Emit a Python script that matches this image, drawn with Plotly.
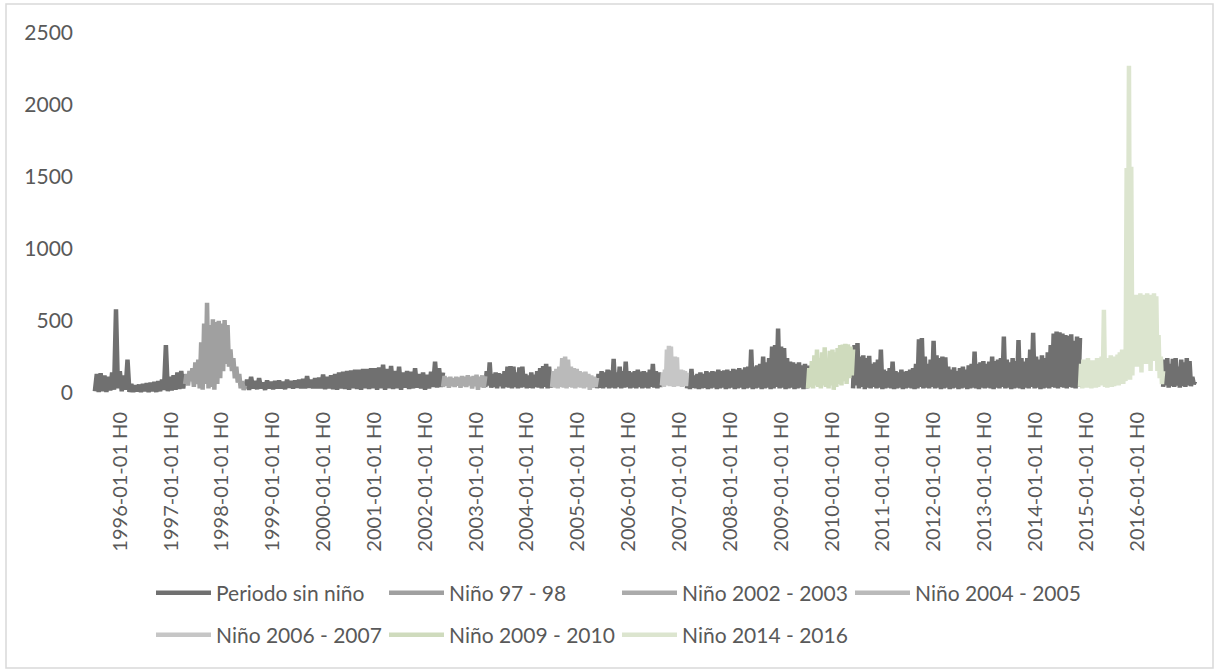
import pandas as pd
import plotly.graph_objects as go

# Caudal horario resumido: pares (valle, pico) a lo largo de cada periodo
years = list(range(1996, 2017))
tick_dates = [f"{y}-01-01" for y in years]
tick_labels = [f"{y}-01-01 H0" for y in years]

# Periodo sin niño, tramos consecutivos (inicio, fin)
sin_nino_spans = [
    ("1995-07-04", "1997-04-12"),
    ("1998-06-17", "2002-05-09"),
    ("2003-03-08", "2004-06-30"),
    ("2005-05-19", "2006-08-28"),
    ("2007-02-24", "2009-07-12"),
    ("2010-06-01", "2014-11-17"),
    ("2016-07-06", "2017-02-21"),
]
sin_nino_1995_1997 = [10, 130, 5, 135, 10, 120, 5, 110, 15, 140, 20, 580, 30, 150, 10, 120,
                      20, 230, 5, 60, 5, 50, 10, 55, 5, 60, 10, 65, 5, 70, 10, 75, 5, 80,
                      10, 90, 20, 330, 10, 110, 15, 120, 20, 140, 25, 150, 30, 130]
sin_nino_1998_2002 = [30, 90, 20, 110, 30, 80, 25, 100, 30, 70, 20, 85, 30, 75, 25, 80,
                      30, 85, 30, 75, 25, 90, 35, 80, 30, 85, 35, 90, 30, 95, 30, 115,
                      35, 90, 30, 100, 30, 105, 30, 125, 25, 110, 30, 120, 25, 130, 20, 140,
                      30, 145, 25, 150, 20, 155, 30, 160, 25, 160, 20, 165, 30, 165, 25, 170,
                      30, 170, 20, 175, 30, 195, 20, 165, 30, 185, 25, 150, 30, 180, 20, 140,
                      35, 150, 25, 145, 30, 170, 35, 130, 30, 140, 20, 125, 30, 145, 40, 215,
                      35, 170, 40, 140]
sin_nino_2003_2004 = [40, 150, 50, 210, 35, 130, 40, 140, 30, 135, 45, 130, 30, 150, 40, 180,
                      35, 185, 30, 180, 40, 140, 30, 175, 35, 180, 40, 130, 30, 120, 35, 140,
                      30, 125, 40, 150, 35, 170, 30, 185, 40, 200, 30, 180, 35, 150]
sin_nino_2005_2006 = [30, 130, 35, 150, 30, 140, 40, 160, 30, 155, 35, 235, 30, 140, 40, 180,
                      30, 150, 35, 215, 40, 150, 30, 140, 35, 150, 30, 160, 40, 145, 30, 150,
                      35, 140, 30, 160, 40, 200, 35, 150, 30, 140, 40, 130]
sin_nino_2007_2009 = [30, 130, 25, 165, 35, 120, 30, 130, 25, 140, 30, 130, 35, 150, 25, 140,
                      30, 150, 35, 145, 25, 160, 30, 150, 35, 155, 25, 160, 30, 150, 35, 165,
                      25, 160, 30, 170, 35, 160, 25, 175, 30, 180, 35, 300, 25, 180, 30, 190,
                      35, 200, 25, 250, 30, 210, 35, 240, 25, 320, 30, 330, 40, 445, 30, 320,
                      35, 310, 25, 240, 30, 215, 35, 210, 25, 200, 30, 210, 35, 190, 25, 200,
                      30, 190]
sin_nino_2010_2014 = [30, 330, 50, 345, 30, 250, 40, 260, 25, 240, 35, 255, 30, 200, 40, 210,
                      30, 230, 35, 300, 25, 160, 30, 150, 35, 170, 30, 215, 25, 150, 30, 140,
                      35, 160, 25, 145, 30, 150, 35, 160, 30, 170, 25, 200, 30, 370, 40, 380,
                      30, 250, 35, 200, 30, 230, 40, 360, 30, 260, 35, 240, 25, 250, 30, 245,
                      35, 180, 25, 160, 30, 175, 35, 150, 25, 170, 30, 180, 35, 160, 25, 190,
                      30, 200, 35, 285, 30, 200, 25, 210, 35, 220, 30, 200, 35, 215, 30, 250,
                      25, 220, 35, 230, 30, 240, 40, 390, 30, 230, 35, 210, 25, 240, 30, 220,
                      35, 365, 30, 240, 25, 215, 35, 240, 30, 300, 40, 415, 30, 250, 35, 230,
                      25, 260, 30, 240, 35, 280, 30, 330, 40, 410, 35, 425, 30, 420, 40, 410,
                      35, 400, 30, 395, 40, 405, 35, 360, 30, 390, 40, 380]
sin_nino_2016_2017 = [40, 230, 50, 240, 35, 200, 45, 235, 40, 240, 50, 180, 35, 230, 45, 210,
                      40, 240, 50, 220, 45, 110, 60, 80]
sin_nino_segments = [sin_nino_1995_1997, sin_nino_1998_2002, sin_nino_2003_2004,
                     sin_nino_2005_2006, sin_nino_2007_2009, sin_nino_2010_2014,
                     sin_nino_2016_2017]

# Episodios El Niño
nino_97_98 = [60, 130, 50, 150, 80, 170, 40, 210, 60, 230, 30, 350, 20, 480, 60, 625,
              30, 470, 40, 510, 20, 490, 60, 500, 100, 480, 150, 505, 200, 470, 180, 300,
              150, 240, 100, 180, 70, 130, 30, 80, 20, 50]
nino_2002_2003 = [40, 115, 50, 105, 35, 110, 45, 100, 40, 110, 50, 105, 35, 115, 45, 110,
                  40, 120, 50, 110, 30, 115, 45, 125, 20, 110, 40, 120, 35, 115]
nino_2004_2005 = [40, 150, 35, 165, 30, 180, 40, 240, 35, 250, 30, 230, 40, 180, 35, 170,
                  30, 165, 40, 150, 35, 140, 30, 145, 40, 130, 20, 120, 35, 110, 40, 105]
nino_2006_2007 = [50, 140, 40, 160, 60, 300, 50, 325, 45, 320, 60, 160, 40, 250, 50, 245,
                  45, 150, 55, 160, 40, 155, 50, 150, 45, 140]
nino_2009_2010 = [30, 170, 40, 220, 30, 260, 50, 300, 40, 240, 30, 280, 50, 315, 40, 230,
                  30, 290, 50, 300, 20, 280, 40, 310, 60, 330, 50, 335, 80, 340, 60, 335,
                  100, 320, 120, 300]
nino_2014_2016 = [40, 200, 30, 230, 45, 210, 35, 240, 40, 215, 30, 225, 45, 210, 35, 240,
                  40, 230, 50, 250, 60, 575, 40, 240, 35, 210, 50, 260, 40, 250, 45, 230,
                  60, 265, 50, 280, 70, 300, 60, 280, 80, 1560, 100, 2270, 90, 1570,
                  120, 660, 250, 680, 180, 670, 230, 690, 140, 660, 250, 680, 200, 690,
                  240, 670, 150, 680, 250, 690, 220, 670, 150, 400, 100, 250, 60, 150]

nino_periods = [
    ("Niño 97 - 98", "1997-04-12", "1998-06-17", nino_97_98, "#a0a0a0", "legend"),
    ("Niño 2002 - 2003", "2002-05-09", "2003-03-08", nino_2002_2003, "#ababab", "legend"),
    ("Niño 2004 - 2005", "2004-06-30", "2005-05-19", nino_2004_2005, "#bababa", "legend"),
    ("Niño 2006 - 2007", "2006-08-28", "2007-02-24", nino_2006_2007, "#c6c6c6", "legend2"),
    ("Niño 2009 - 2010", "2009-07-12", "2010-06-01", nino_2009_2010, "#cfdbbd", "legend2"),
    ("Niño 2014 - 2016", "2014-11-17", "2016-07-06", nino_2014_2016, "#dce5cf", "legend2"),
]

# Figure geometry
W, H = 1217, 671
M_L, M_R, M_T, M_B = 90, 17, 27, 274
PW, PH = W - M_L - M_R, H - M_T - M_B
TEXT = "#595959"
FONT = "Lato, 'Open Sans', sans-serif"
LINE_W = 4.5


def px_x(px):
    return (px - M_L) / PW


def px_y(py):
    return (H - M_B - py) / PH


def spread(start, end, vals):
    return list(pd.date_range(start, end, periods=len(vals))), list(vals)


fig = go.Figure()

xs, ys = [], []
for (s, e), vals in zip(sin_nino_spans, sin_nino_segments):
    x, y = spread(s, e, vals)
    xs += x + [None]
    ys += y + [None]
fig.add_trace(go.Scatter(x=xs, y=ys, mode="lines", name="Periodo sin niño",
                         line=dict(color="#707070", width=LINE_W), legend="legend"))

for name, s, e, vals, color, leg in nino_periods:
    x, y = spread(s, e, vals)
    fig.add_trace(go.Scatter(x=x, y=y, mode="lines", name=name,
                             line=dict(color=color, width=LINE_W), legend=leg))

legend_common = dict(
    orientation="h", xanchor="left", yanchor="middle",
    entrywidth=163, entrywidthmode="pixels", itemwidth=55,
    font=dict(family=FONT, size=21, color=TEXT),
    bgcolor="rgba(0,0,0,0)", traceorder="normal",
)

fig.update_layout(
    width=W, height=H,
    margin=dict(l=M_L, r=M_R, t=M_T, b=M_B),
    paper_bgcolor="white", plot_bgcolor="white",
    showlegend=True,
    legend=dict(x=px_x(151), y=px_y(593), **legend_common),
    legend2=dict(x=px_x(151), y=px_y(635), **legend_common),
    xaxis=dict(
        type="date", range=["1995-05-30", "2017-03-28"],
        tickvals=tick_dates, ticktext=tick_labels, tickangle=-90,
        showgrid=False, zeroline=False, showline=False, ticks="",
        ticklabelstandoff=10,
        tickfont=dict(family=FONT, size=20, color=TEXT),
    ),
    yaxis=dict(
        range=[-30, 2540], tickvals=[0, 500, 1000, 1500, 2000, 2500],
        showgrid=False, zeroline=False, showline=False, ticks="",
        ticklabelstandoff=16,
        tickfont=dict(family=FONT, size=21, color=TEXT),
    ),
    shapes=[dict(type="rect", xref="paper", yref="paper",
                 x0=px_x(6), x1=px_x(1213), y0=px_y(668), y1=px_y(4),
                 line=dict(color="#d9d9d9", width=1.5), layer="below")],
)

fig.write_html("out.html")
